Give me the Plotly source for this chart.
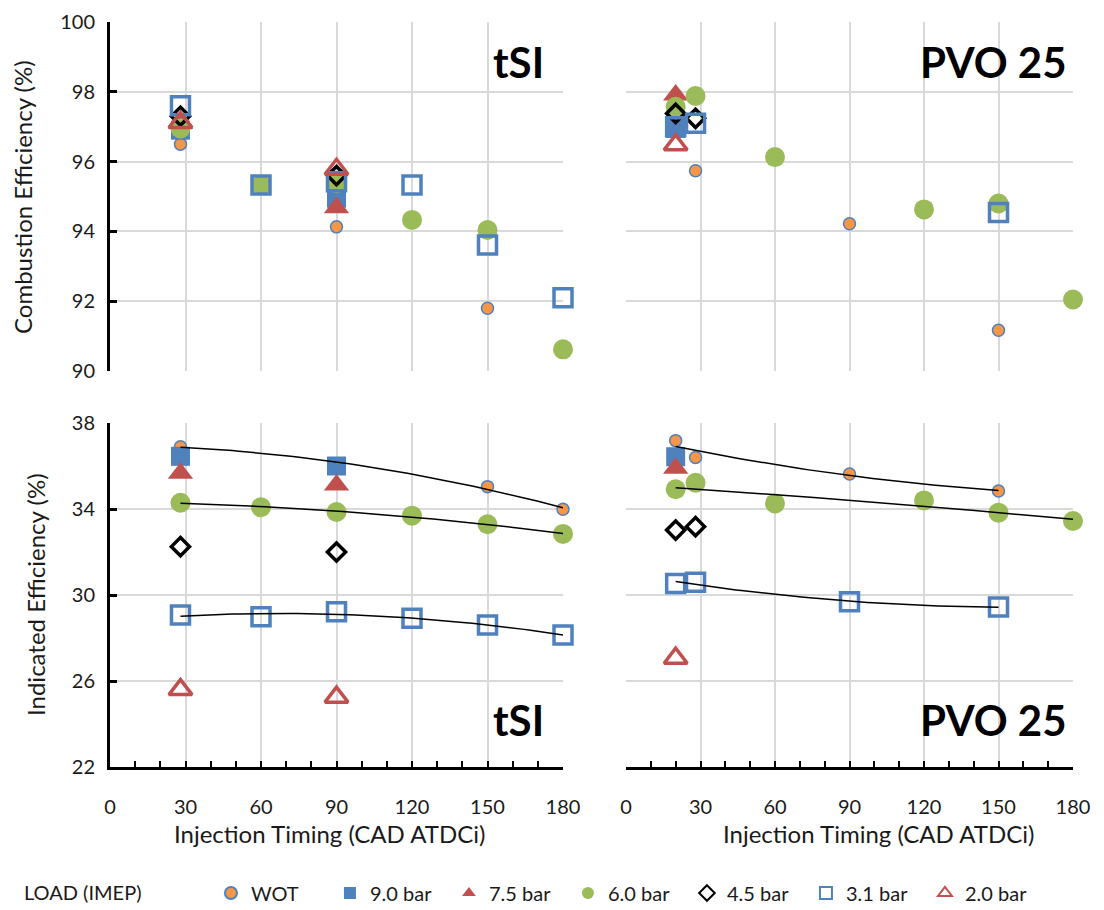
import numpy as np
import plotly.graph_objects as go

W, H = 1104, 910
FONT = "Lato, 'Open Sans', Arial, sans-serif"

loads = ["WOT", "9.0 bar", "7.5 bar", "6.0 bar", "4.5 bar", "3.1 bar", "2.0 bar"]
x_ticks = [0, 30, 60, 90, 120, 150, 180]
ce_ticks = [90, 92, 94, 96, 98, 100]
ie_ticks = [22, 26, 30, 34, 38]

# tSI - combustion efficiency (%)
tsi_ce_x = {"WOT": [28, 90, 150], "9.0 bar": [28, 90], "7.5 bar": [28, 90],
            "6.0 bar": [28, 60, 90, 120, 150, 180], "4.5 bar": [28, 90],
            "3.1 bar": [28, 60, 90, 120, 150, 180], "2.0 bar": [28, 90]}
tsi_ce_y = {"WOT": [96.5, 94.13, 91.8], "9.0 bar": [96.9, 94.95], "7.5 bar": [97.1, 94.68],
            "6.0 bar": [96.95, 95.33, 95.38, 94.33, 94.04, 90.62], "4.5 bar": [97.3, 95.6],
            "3.1 bar": [97.6, 95.33, 95.42, 95.33, 93.61, 92.1], "2.0 bar": [97.12, 95.78]}

# PVO 25 - combustion efficiency (%)
pvo_ce_x = {"WOT": [20, 28, 90, 150], "9.0 bar": [20], "7.5 bar": [20],
            "6.0 bar": [20, 28, 60, 120, 150, 180], "4.5 bar": [20, 28],
            "3.1 bar": [20, 28, 150], "2.0 bar": [20]}
pvo_ce_y = {"WOT": [96.95, 95.74, 94.22, 91.17], "9.0 bar": [96.95], "7.5 bar": [97.91],
            "6.0 bar": [97.57, 97.88, 96.13, 94.63, 94.8, 92.05], "4.5 bar": [97.38, 97.24],
            "3.1 bar": [97.0, 97.1, 94.54], "2.0 bar": [96.48]}

# tSI - indicated efficiency (%)
tsi_ie_x = {"WOT": [28, 90, 150, 180], "9.0 bar": [28, 90], "7.5 bar": [28, 90],
            "6.0 bar": [28, 60, 90, 120, 150, 180], "4.5 bar": [28, 90],
            "3.1 bar": [28, 60, 90, 120, 150, 180], "2.0 bar": [28, 90]}
tsi_ie_y = {"WOT": [36.9, 36.1, 35.04, 33.99], "9.0 bar": [36.45, 36.0], "7.5 bar": [35.66, 35.12],
            "6.0 bar": [34.29, 34.08, 33.86, 33.69, 33.29, 32.84], "4.5 bar": [32.25, 32.0],
            "3.1 bar": [29.07, 28.99, 29.22, 28.92, 28.6, 28.14], "2.0 bar": [25.6, 25.25]}

# PVO 25 - indicated efficiency (%)
pvo_ie_x = {"WOT": [20, 28, 90, 150], "9.0 bar": [20], "7.5 bar": [20],
            "6.0 bar": [20, 28, 60, 120, 150, 180], "4.5 bar": [20, 28],
            "3.1 bar": [20, 28, 90, 150], "2.0 bar": [20]}
pvo_ie_y = {"WOT": [37.18, 36.4, 35.63, 34.84], "9.0 bar": [36.43], "7.5 bar": [35.9],
            "6.0 bar": [34.92, 35.22, 34.26, 34.4, 33.83, 33.44], "4.5 bar": [33.02, 33.18],
            "3.1 bar": [30.54, 30.59, 29.69, 29.44], "2.0 bar": [27.06]}

trend_loads = ["WOT", "6.0 bar", "3.1 bar"]

BLUE, RED, GREEN, ORANGE = "#4F81BD", "#C0504D", "#9BBB59", "#F79646"
STY = {
    "WOT": dict(symbol="circle", size=12, color=ORANGE, line=dict(color=BLUE, width=1.5)),
    "9.0 bar": dict(symbol="square", size=19, color=BLUE, line=dict(width=0)),
    "7.5 bar": dict(symbol="triangle-up", size=22, color=RED, line=dict(width=0)),
    "6.0 bar": dict(symbol="circle", size=20, color=GREEN, line=dict(width=0)),
    "4.5 bar": dict(symbol="diamond-open", size=14, color="black", line=dict(width=3.5)),
    "3.1 bar": dict(symbol="square-open", size=18, color=BLUE, line=dict(width=3.5)),
    "2.0 bar": dict(symbol="triangle-up-open", size=20, color=RED, line=dict(width=3.5)),
}

fig = go.Figure()

panels = [
    (tsi_ce_x, tsi_ce_y, "x", "y", False),
    (pvo_ce_x, pvo_ce_y, "x2", "y2", False),
    (tsi_ie_x, tsi_ie_y, "x3", "y3", True),
    (pvo_ie_x, pvo_ie_y, "x4", "y4", True),
]
for pi, (dx, dy, xa, ya, trend) in enumerate(panels):
    for ld in loads:
        fig.add_trace(go.Scatter(
            x=dx[ld], y=dy[ld], mode="markers", name=ld, legendgroup=ld,
            showlegend=(pi == 0), marker=STY[ld], xaxis=xa, yaxis=ya,
            cliponaxis=False))
    if trend:
        for ld in trend_loads:
            c = np.polyfit(dx[ld], dy[ld], 2)
            xs = np.linspace(min(dx[ld]), max(dx[ld]), 60)
            fig.add_trace(go.Scatter(
                x=xs, y=np.polyval(c, xs), mode="lines", showlegend=False,
                line=dict(color="black", width=1.5), xaxis=xa, yaxis=ya,
                hoverinfo="skip", cliponaxis=False))

GRID = "#D9D9D9"
TXT = "#1a1a1a"
TF = dict(family=FONT, size=20, color=TXT)


def px(x):
    return x / W


def py(y):
    return 1 - y / H


xL = [px(110), px(563)]
xR = [px(626), px(1073)]
yT = [py(371), py(22)]
yB = [py(767), py(423)]

base_x = dict(range=[0, 180], tickvals=x_ticks, showgrid=True, gridcolor=GRID,
              gridwidth=1.5, zeroline=False, tickfont=TF)
bottom_x = dict(showline=True, linecolor="black", linewidth=3, ticks="inside", ticklen=6,
                tickwidth=2, tickcolor="black", ticklabelstandoff=20,
                minor=dict(dtick=10, ticks="inside", ticklen=6, tickwidth=2,
                           tickcolor="black", showgrid=False))
left_y = dict(showline=True, linecolor="black", linewidth=3, ticks="inside", ticklen=7,
              tickwidth=3, tickcolor="black", tickfont=TF, ticklabelstandoff=8)
fig.update_layout(
    xaxis=dict(base_x, domain=xL, anchor="y", showticklabels=False, showline=False),
    xaxis2=dict(base_x, domain=xR, anchor="y2", showticklabels=False, showline=False),
    xaxis3=dict(base_x, domain=xL, anchor="y3", **bottom_x),
    xaxis4=dict(base_x, domain=xR, anchor="y4", **bottom_x),
    yaxis=dict(domain=yT, anchor="x", range=[90, 100], tickvals=ce_ticks, showgrid=True,
               gridcolor=GRID, gridwidth=1.5, zeroline=False, **left_y),
    yaxis2=dict(domain=yT, anchor="x2", range=[90, 100], tickvals=ce_ticks, showgrid=True,
                gridcolor=GRID, gridwidth=1.5, zeroline=False, showticklabels=False),
    yaxis3=dict(domain=yB, anchor="x3", range=[22, 38], tickvals=ie_ticks, showgrid=True,
                gridcolor=GRID, gridwidth=1.5, zeroline=False, **left_y),
    yaxis4=dict(domain=yB, anchor="x4", range=[22, 38], tickvals=ie_ticks, showgrid=True,
                gridcolor=GRID, gridwidth=1.5, zeroline=False, showticklabels=False),
)

ann = []
LF = dict(family=FONT, size=24, color=TXT)
C = dict(showarrow=False, xref="paper", yref="paper", xanchor="center", yanchor="middle")
ann.append(dict(x=px(22), y=py(197), text="Combustion Efficiency (%)", textangle=-90,
                font=LF, **C))
ann.append(dict(x=px(35), y=py(595), text="Indicated Efficiency (%)", textangle=-90,
                font=LF, **C))
ann.append(dict(x=px(329), y=py(833), text="Injection Timing (CAD ATDCi)", font=LF, **C))
ann.append(dict(x=px(878), y=py(833), text="Injection Timing (CAD ATDCi)", font=LF, **C))
BF = dict(family=FONT, size=42, color="black", weight="bold")
for (xx, yy, t) in [(518, 62, "tSI"), (993, 62, "PVO 25"), (518, 720, "tSI"), (993, 720, "PVO 25")]:
    ann.append(dict(x=px(xx), y=py(yy), text="<b>%s</b>" % t, font=BF, **C))

fig.update_layout(
    width=W, height=H, margin=dict(l=0, r=0, t=0, b=0, autoexpand=False),
    paper_bgcolor="white", plot_bgcolor="white",
    annotations=ann,
    legend=dict(orientation="h", x=px(22), xanchor="left", y=py(893), yanchor="middle",
                font=dict(family=FONT, size=20, color=TXT),
                title=dict(text="LOAD (IMEP)" + "\u00a0" * 12, side="left",
                           font=dict(family=FONT, size=20, color=TXT)),
                entrywidth=74,
                itemsizing="constant", bgcolor="rgba(0,0,0,0)"),
    font=dict(family=FONT),
)

fig.write_html("out.html")
